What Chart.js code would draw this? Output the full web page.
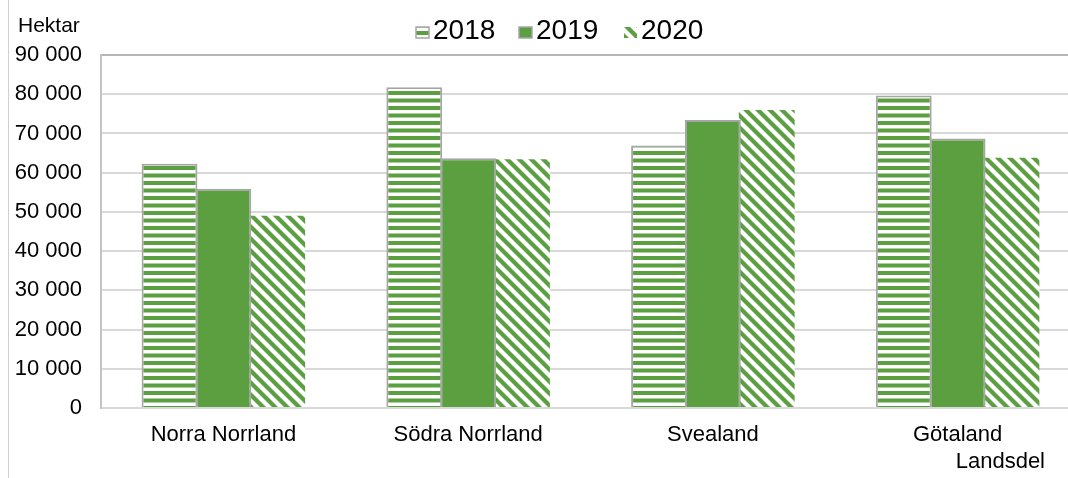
<!DOCTYPE html>
<html>
<head>
<meta charset="utf-8">
<script src="https://cdn.jsdelivr.net/npm/chart.js@4.4.1/dist/chart.umd.min.js"></script>
<style>
  html, body { margin: 0; padding: 0; background: #fff; overflow: hidden; }
  #wrap { position: relative; width: 1082px; height: 478px; }
</style>
</head>
<body>
<div id="wrap"><canvas id="barChart" width="1082" height="478"></canvas></div>
<script>
const regions = ["Norra Norrland", "Södra Norrland", "Svealand", "Götaland"];
const years = ["2018", "2019", "2020"];
const ha2018 = [62300, 81800, 66900, 79700];
const ha2019 = [55900, 63700, 73400, 68700];
const ha2020 = [49000, 63400, 76000, 63800];
const yMax = 90000;
const yStep = 10000;

const green = "#5b9f40";
const edge = "#a6a6a6";
const fontFamily = "'Liberation Sans', Arial, sans-serif";

const ctx = document.getElementById("barChart").getContext("2d");

// horizontal stripes for 2018
function hStripes() {
  const c = document.createElement("canvas");
  c.width = 8;
  c.height = 15;
  const x = c.getContext("2d");
  x.fillStyle = "#fff";
  x.fillRect(0, 0, 8, 15);
  x.fillStyle = green;
  x.fillRect(0, 1, 8, 4);
  x.fillRect(0, 8.5, 8, 4);
  return ctx.createPattern(c, "repeat");
}

// diagonal "\" stripes for 2020
function dStripes() {
  const s = 12;
  const c = document.createElement("canvas");
  c.width = s;
  c.height = s;
  const x = c.getContext("2d");
  x.fillStyle = "#fff";
  x.fillRect(0, 0, s, s);
  x.strokeStyle = green;
  x.lineWidth = 4.2;
  for (let k = -1; k <= 1; k++) {
    x.beginPath();
    x.moveTo(k * s - 2, -2);
    x.lineTo(k * s + s + 2, s + 2);
    x.stroke();
  }
  return ctx.createPattern(c, "repeat");
}

function spaced(v) {
  return String(v).replace(/\B(?=(\d{3})+(?!\d))/g, " ");
}

// axis titles, custom legend and the left frame line
const extras = {
  id: "extras",
  beforeDraw(chart) {
    const c = chart.ctx;
    c.save();
    c.fillStyle = "#d0d0d0";
    c.fillRect(8, 0, 1, chart.height);
    c.restore();
  },
  afterDraw(chart) {
    const c = chart.ctx;
    c.save();
    c.fillStyle = "#000";
    c.textBaseline = "alphabetic";
    c.font = "21px " + fontFamily;
    c.textAlign = "left";
    c.fillText("Hektar", 18, 32);
    c.font = "22px " + fontFamily;
    c.textAlign = "right";
    c.fillText("Landsdel", 1045, 468);

    const legendX = [416, 519, 624];
    chart.data.datasets.forEach((ds, i) => {
      const x = legendX[i];
      c.fillStyle = ds.backgroundColor;
      c.fillRect(x, 27, 13, 11);
      if (ds.borderWidth) {
        c.strokeStyle = edge;
        c.lineWidth = 1.5;
        c.strokeRect(x, 27, 13, 11);
      }
      c.fillStyle = "#000";
      c.textAlign = "left";
      c.font = "28px " + fontFamily;
      c.fillText(ds.label, x + 17, 39);
    });
    c.restore();
  }
};

new Chart(ctx, {
  type: "bar",
  data: {
    labels: regions,
    datasets: [
      { label: years[0], data: ha2018, backgroundColor: hStripes(), borderColor: edge, borderWidth: 2 },
      { label: years[1], data: ha2019, backgroundColor: green, borderColor: edge, borderWidth: 2 },
      { label: years[2], data: ha2020, backgroundColor: dStripes(), borderWidth: 0 }
    ]
  },
  options: {
    responsive: false,
    animation: false,
    categoryPercentage: 0.66,
    barPercentage: 1.037,
    layout: { padding: { top: 55, right: 2, left: 0, bottom: 0 } },
    plugins: {
      legend: { display: false },
      tooltip: { enabled: false }
    },
    scales: {
      x: {
        grid: { display: false, drawTicks: false },
        border: { color: "#d9d9d9", width: 2 },
        ticks: { color: "#000", font: { size: 22, family: fontFamily }, padding: 14 },
        afterFit(scale) { scale.height = 70; }
      },
      y: {
        min: 0,
        max: yMax,
        grid: {
          drawTicks: false,
          lineWidth: 2,
          color: (c) => (c.tick && c.tick.value === yMax ? "#b5b5b5" : "#d9d9d9")
        },
        border: { color: "#c4c4c4", width: 2 },
        ticks: {
          stepSize: yStep,
          color: "#000",
          font: { size: 22, family: fontFamily },
          padding: 19,
          callback: (v) => spaced(v)
        },
        afterFit(scale) { scale.width = 101; }
      }
    }
  },
  plugins: [extras]
});
</script>
</body>
</html>
